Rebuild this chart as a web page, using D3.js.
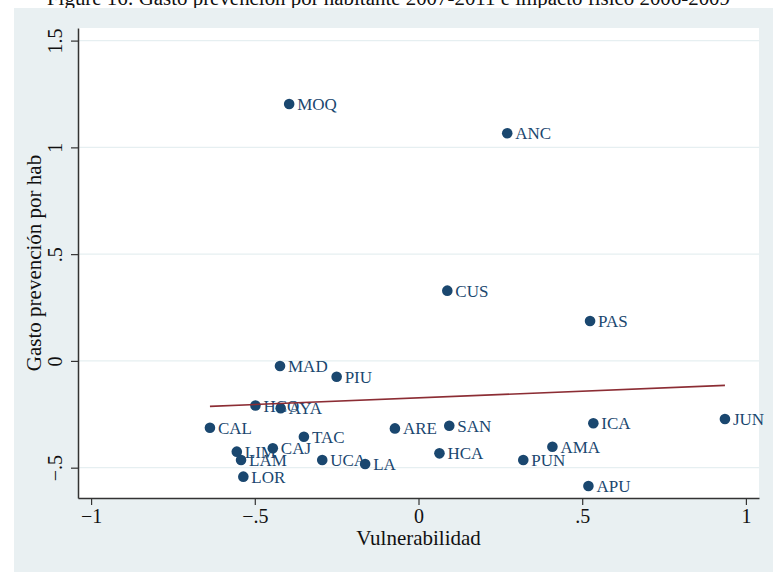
<!DOCTYPE html>
<html>
<head>
<meta charset="utf-8">
<script src="https://cdn.jsdelivr.net/npm/d3@7"></script>
<style>
  body { margin: 0; background: #fff; }
  text { font-family: "Liberation Serif", "Times New Roman", serif; }
</style>
</head>
<body>
<div id="chart"></div>
<script>
// region codes and values
var regiones = ['MOQ', 'ANC', 'CUS', 'PAS', 'MAD', 'PIU', 'HCO', 'AYA', 'CAL', 'TAC', 'ARE', 'SAN',
    'ICA', 'JUN', 'LIM', 'CAJ', 'LAM', 'UCA', 'LA', 'HCA', 'AMA', 'PUN', 'LOR', 'APU'];
var vulnerabilidad = [-0.395, 0.271, 0.088, 0.524, -0.423, -0.250, -0.498, -0.421, -0.637, -0.350, -0.072, 0.094,
    0.534, 0.936, -0.555, -0.445, -0.542, -0.294, -0.163, 0.064, 0.409, 0.320, -0.535, 0.519];
var gastoPorHab = [1.203, 1.066, 0.329, 0.187, -0.024, -0.074, -0.209, -0.222, -0.313, -0.355, -0.316, -0.304,
    -0.292, -0.272, -0.425, -0.409, -0.464, -0.464, -0.483, -0.433, -0.402, -0.464, -0.542, -0.586];

var xTicks = [-1, -0.5, 0, 0.5, 1];
var xTickLabels = ['\u22121', '\u2212.5', '0', '.5', '1'];
var yTicks = [-0.5, 0, 0.5, 1, 1.5];
var yTickLabels = ['\u2212.5', '0', '.5', '1', '1.5'];

var caption = 'Figure 16: Gasto prevención por habitante 2007-2011 e impacto físico 2006-2009';

var width = 773;
var height = 572;
var plot = { left: 78, right: 759, top: 28, bottom: 498 };

var navy = '#1a476f';

var svg = d3.select('#chart')
  .append('svg')
  .attr('width', width)
  .attr('height', height);

svg.append('rect')
  .attr('width', width)
  .attr('height', height)
  .attr('fill', '#fff');

// caption of the page, mostly cut off at the top
svg.append('text')
  .attr('x', 388.5)
  .attr('y', 5)
  .attr('text-anchor', 'middle')
  .attr('font-size', 20)
  .attr('textLength', 683)
  .attr('lengthAdjust', 'spacingAndGlyphs')
  .attr('fill', '#111')
  .text(caption);

// graph region
svg.append('rect')
  .attr('x', 14)
  .attr('y', 8)
  .attr('width', width - 14)
  .attr('height', height - 8)
  .attr('fill', '#e9f0f2');

svg.append('rect')
  .attr('x', plot.left)
  .attr('y', plot.top)
  .attr('width', plot.right - plot.left)
  .attr('height', plot.bottom - plot.top)
  .attr('fill', '#fff');

var x = d3.scaleLinear()
  .domain([-1.04, 1.04])
  .range([plot.left, plot.right]);

var y = d3.scaleLinear()
  .domain([-0.642, 1.559])
  .range([plot.bottom, plot.top]);

// horizontal grid
svg.append('g')
  .selectAll('line')
  .data(yTicks)
  .enter()
  .append('line')
  .attr('x1', plot.left)
  .attr('x2', plot.right)
  .attr('y1', function(d) { return y(d); })
  .attr('y2', function(d) { return y(d); })
  .attr('stroke', '#e6eff1')
  .attr('stroke-width', 1.2);

var xAxis = svg.append('g')
  .attr('transform', 'translate(0,' + plot.bottom + ')')
  .call(d3.axisBottom(x)
    .tickValues(xTicks)
    .tickFormat(function(d, i) { return xTickLabels[i]; })
    .tickSize(7)
    .tickSizeOuter(0));

var yAxis = svg.append('g')
  .attr('transform', 'translate(' + plot.left + ',0)')
  .call(d3.axisLeft(y)
    .tickValues(yTicks)
    .tickFormat(function(d, i) { return yTickLabels[i]; })
    .tickSize(7)
    .tickSizeOuter(0));

[xAxis, yAxis].forEach(function(ax) {
  ax.select('.domain').attr('stroke', '#333').attr('stroke-width', 1.5);
  ax.selectAll('.tick line').attr('stroke', '#333').attr('stroke-width', 1.2);
  ax.selectAll('text')
    .attr('font-family', '"Liberation Serif", serif')
    .attr('font-size', 20)
    .attr('fill', '#111');
});

xAxis.selectAll('.tick text')
  .attr('y', 25)
  .attr('dy', 0);

yAxis.selectAll('.tick text')
  .attr('transform', 'rotate(-90)')
  .attr('x', 0)
  .attr('y', -16)
  .attr('dy', 0)
  .attr('text-anchor', 'middle');

// axis titles
svg.append('text')
  .attr('x', (plot.left + plot.right) / 2)
  .attr('y', 545)
  .attr('text-anchor', 'middle')
  .attr('font-size', 21)
  .attr('fill', '#111')
  .text('Vulnerabilidad');

svg.append('text')
  .attr('transform', 'translate(41,' + ((plot.top + plot.bottom) / 2) + ') rotate(-90)')
  .attr('text-anchor', 'middle')
  .attr('font-size', 21)
  .attr('fill', '#111')
  .text('Gasto prevención por hab');

var points = regiones.map(function(r, i) {
  return { region: r, vx: vulnerabilidad[i], vy: gastoPorHab[i] };
});

// labels under the markers
svg.append('g')
  .selectAll('text')
  .data(points)
  .enter()
  .append('text')
  .attr('x', function(d) { return x(d.vx) + 8; })
  .attr('y', function(d) { return y(d.vy) + 6; })
  .attr('font-size', 17)
  .attr('fill', navy)
  .text(function(d) { return d.region; });

svg.append('g')
  .selectAll('circle')
  .data(points)
  .enter()
  .append('circle')
  .attr('cx', function(d) { return x(d.vx); })
  .attr('cy', function(d) { return y(d.vy); })
  .attr('r', 5.3)
  .attr('fill', navy);

// linear fit (least squares), like lfit
var mx = d3.mean(vulnerabilidad);
var my = d3.mean(gastoPorHab);
var sxy = d3.sum(vulnerabilidad, function(v, i) { return (v - mx) * (gastoPorHab[i] - my); });
var sxx = d3.sum(vulnerabilidad, function(v) { return (v - mx) * (v - mx); });
var slope = sxy / sxx;
var intercept = my - slope * mx;
var fitX = d3.extent(vulnerabilidad);

svg.append('path')
  .datum(fitX)
  .attr('d', d3.line()
    .x(function(d) { return x(d); })
    .y(function(d) { return y(intercept + slope * d); }))
  .attr('fill', 'none')
  .attr('stroke', '#8c2d34')
  .attr('stroke-width', 1.6);
</script>
</body>
</html>
